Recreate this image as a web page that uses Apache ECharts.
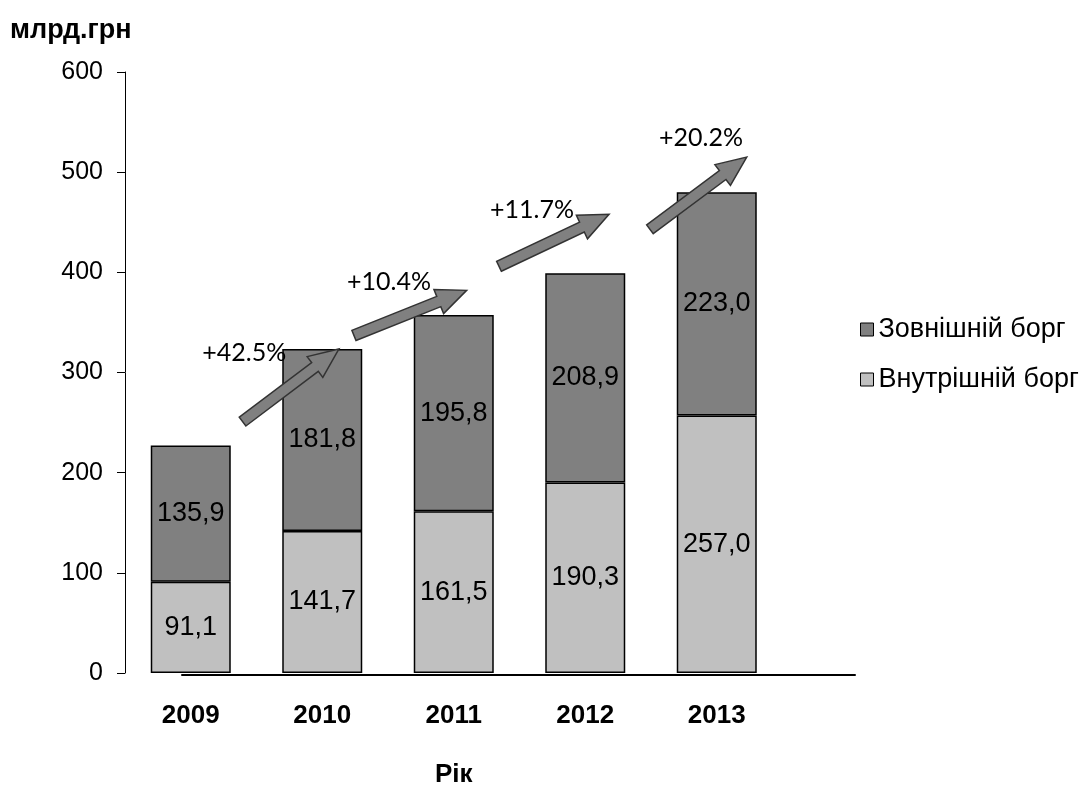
<!DOCTYPE html>
<html><head><meta charset="utf-8">
<script src="https://cdn.jsdelivr.net/npm/echarts@6/dist/echarts.min.js"></script>
<style>html,body{margin:0;padding:0;background:#fff}#c{width:1086px;height:789px}</style>
</head><body><div id="c"></div>
<script>
const years = ['2009', '2010', '2011', '2012', '2013'];
const domestic = [91.1, 141.7, 161.5, 190.3, 257.0];   // Внутрішній борг
const external = [135.9, 181.8, 195.8, 208.9, 223.0];  // Зовнішній борг
const growthLabels = ['+42.5%', '+10.4%', '+11.7%', '+20.2%'];
// arrows: [tail category-index, tail value, tip category-index, tip value]
const arrows = [
  [0.394, 251, 1.127, 323.5],
  [1.241, 337, 2.098, 382],
  [2.344, 406, 3.181, 458],
  [3.492, 443, 4.228, 515]
];
// growth label centres: [category-index, value]
const growthLabelPos = [
  [0.407, 320],
  [1.508, 390],
  [2.595, 462],
  [3.880, 534]
];
const seriesNames = ['Зовнішній борг', 'Внутрішній борг'];

const FONT = "'Liberation Sans', Arial, sans-serif";
const fmt = v => v.toFixed(1).replace('.', ',');

const chart = echarts.init(document.getElementById('c'), null, {renderer: 'canvas'});
const gridBox = {left: 125, right: 303.5, top: 72, bottom: 116, outerBoundsMode: 'none', containLabel: false};

chart.setOption({
  backgroundColor: '#fff',
  animation: false,
  title: [{
    text: 'млрд.грн', left: 5, top: 12,
    textStyle: {fontFamily: FONT, fontWeight: 'bold', fontSize: 27, color: '#000'}
  }],
  legend: {
    orient: 'vertical', left: 855, top: 311,
    data: seriesNames,
    itemWidth: 13, itemHeight: 13, itemGap: 23,
    icon: 'rect',
    textStyle: {fontFamily: FONT, fontSize: 27, color: '#000', lineHeight: 27},
    itemStyle: {borderColor: '#000', borderWidth: 1}
  },
  grid: [
    Object.assign({}, gridBox),
    {left: 182, right: 231, top: 72, bottom: 114, outerBoundsMode: 'none', containLabel: false},
    Object.assign({}, gridBox)
  ],
  xAxis: [
    {
      type: 'category', gridIndex: 0, data: years,
      axisLine: {show: false}, axisTick: {show: false},
      axisLabel: {fontFamily: FONT, fontWeight: 'bold', fontSize: 26, color: '#000', margin: 30},
      name: 'Рік', nameLocation: 'middle', nameGap: 89,
      nameTextStyle: {fontFamily: FONT, fontWeight: 'bold', fontSize: 26, color: '#000'}
    },
    {
      type: 'value', gridIndex: 1, min: 0, max: 1,
      axisLine: {show: true, lineStyle: {color: '#000', width: 2}},
      axisTick: {show: false}, axisLabel: {show: false}, splitLine: {show: false}
    },
    {
      type: 'value', gridIndex: 2, min: -0.5, max: 4.5, show: false
    }
  ],
  yAxis: [
    {
      type: 'value', gridIndex: 0, min: 0, max: 600, interval: 100,
      axisLine: {show: true, lineStyle: {color: '#000', width: 1}},
      axisTick: {show: true, length: 8, lineStyle: {color: '#000', width: 1}},
      axisLabel: {fontFamily: FONT, fontSize: 25, color: '#000', margin: 22},
      splitLine: {show: false}
    },
    {type: 'value', gridIndex: 1, min: 0, max: 600, show: false},
    {type: 'value', gridIndex: 2, min: 0, max: 600, show: false}
  ],
  series: [
    {
      name: 'Внутрішній борг', type: 'bar', stack: 'debt',
      xAxisIndex: 0, yAxisIndex: 0,
      data: domestic, barWidth: 80,
      itemStyle: {color: '#C0C0C0', borderColor: '#000', borderWidth: 1.5},
      label: {show: true, position: 'inside', formatter: p => fmt(p.value),
        fontFamily: FONT, fontSize: 27, color: '#000'}
    },
    {
      name: 'Зовнішній борг', type: 'bar', stack: 'debt',
      xAxisIndex: 0, yAxisIndex: 0,
      data: external, barWidth: 80,
      itemStyle: {color: '#808080', borderColor: '#000', borderWidth: 1.5},
      label: {show: true, position: 'inside', formatter: p => fmt(p.value),
        fontFamily: FONT, fontSize: 27, color: '#000'}
    },
    {
      type: 'custom', xAxisIndex: 2, yAxisIndex: 2, z: 10,
      data: arrows,
      renderItem: function (params, api) {
        const p0 = api.coord([api.value(0), api.value(1)]);
        const p1 = api.coord([api.value(2), api.value(3)]);
        const dx = p1[0] - p0[0], dy = p1[1] - p0[1], L = Math.hypot(dx, dy);
        const ux = dx / L, uy = dy / L, nx = -uy, ny = ux;
        const sw = 5.5, hw = 13, hl = 30;
        const bx = p1[0] - ux * hl, by = p1[1] - uy * hl;
        const pts = [
          [p0[0] + nx * sw, p0[1] + ny * sw],
          [bx + nx * sw, by + ny * sw],
          [bx + nx * hw, by + ny * hw],
          [p1[0], p1[1]],
          [bx - nx * hw, by - ny * hw],
          [bx - nx * sw, by - ny * sw],
          [p0[0] - nx * sw, p0[1] - ny * sw]
        ];
        return {type: 'polygon', shape: {points: pts},
          style: {fill: '#808080', stroke: '#333', lineWidth: 1.5}};
      }
    },
    {
      type: 'custom', xAxisIndex: 2, yAxisIndex: 2, z: 11,
      data: growthLabelPos,
      renderItem: function (params, api) {
        const p = api.coord([api.value(0), api.value(1)]);
        return {type: 'text', x: p[0], y: p[1],
          style: {text: growthLabels[params.dataIndex], fontFamily: "Lato, 'Open Sans', sans-serif",
            fontSize: 25, fill: '#000', align: 'center', verticalAlign: 'middle'}};
      }
    }
  ]
});
</script>
</body></html>
